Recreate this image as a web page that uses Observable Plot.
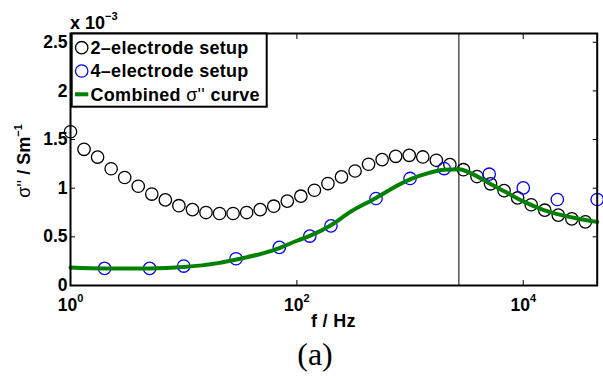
<!DOCTYPE html>
<html><head><meta charset="utf-8">
<script src="https://cdn.jsdelivr.net/npm/d3@7"></script>
<script src="https://cdn.jsdelivr.net/npm/@observablehq/plot@0.6"></script>
<style>body{margin:0;background:#fff} svg{display:block}</style>
</head><body><div id="chart"></div>
<script>
// 2-electrode setup (frequency in Hz, sigma'' in 1e-3 S/m)
const freq2 = [1, 1.317, 1.735, 2.286, 3.011, 3.967, 5.226, 6.885, 9.07, 11.95,
  15.74, 20.74, 27.32, 35.99, 47.41, 62.46, 82.29, 108.4, 142.8, 188.1,
  247.8, 326.4, 430, 566.5, 746.3, 983, 1295, 1706, 2247, 2961,
  3900, 5138, 6769, 8917, 11747, 15475, 20386, 26856, 35380];
const sigma2 = [1.58, 1.40, 1.32, 1.20, 1.11, 1.02, 0.94, 0.88, 0.82, 0.78,
  0.75, 0.74, 0.74, 0.75, 0.78, 0.815, 0.867, 0.918, 0.979, 1.048,
  1.116, 1.177, 1.246, 1.294, 1.328, 1.338, 1.321, 1.287, 1.243, 1.19,
  1.12, 1.045, 0.975, 0.90, 0.83, 0.774, 0.723, 0.685, 0.654];
// 4-electrode setup
const freq4 = [2, 5, 10, 29, 70, 130, 200, 500, 1000, 2000, 5000, 10000, 20000, 45000];
const sigma4 = [0.176, 0.176, 0.2, 0.275, 0.392, 0.508, 0.613, 0.894, 1.10, 1.202, 1.144, 1.003, 0.884, 0.884];
// Combined curve
const freqFit = [1, 2, 5, 10, 20, 30, 50, 70, 100, 130, 200, 300, 500, 700, 1000, 1500, 2000, 2700, 3500, 5000, 7000, 10000, 15000, 20000, 30000, 45000];
const sigmaFit = [0.185, 0.176, 0.176, 0.19, 0.23, 0.27, 0.33, 0.385, 0.46, 0.51, 0.62, 0.76, 0.90, 1.0, 1.09, 1.16, 1.19, 1.195, 1.15, 1.05, 0.96, 0.865, 0.778, 0.733, 0.689, 0.654];
// vertical marker
const markerFreq = [2700];
// axes
const xTicks = [1, 100, 10000];
const xTickLabels = ["10^0", "10^2", "10^4"];
const yTicks = [0, 0.5, 1, 1.5, 2, 2.5];
const yTickLabels = ["0", "0.5", "1", "1.5", "2", "2.5"];
const seriesNames = ["2–electrode setup", "4–electrode setup", "Combined σ'' curve"];
const seriesColors = ["black", "#0000ff", "#008000"];

const W = 603, H = 377, mL = 70, mR = 6.3, mT = 33, mB = 92;
const d2 = freq2.map((f, i) => ({f, s: sigma2[i]}));
const d4 = freq4.map((f, i) => ({f, s: sigma4[i]}));
const dF = freqFit.map((f, i) => ({f, s: sigmaFit[i]}));

const chart = Plot.plot({
  width: W, height: H,
  marginLeft: mL, marginRight: mR, marginTop: mT, marginBottom: mB,
  style: {fontFamily: "'Liberation Sans', Arial, sans-serif", fontSize: "17px", fontWeight: "bold", background: "white", color: "black", overflow: "visible"},
  x: {type: "log", domain: [1, 45000], label: null},
  y: {domain: [0, 2.59], label: null},
  marks: [
    Plot.ruleX(markerFreq, {stroke: "black", strokeWidth: 1}),
    Plot.dot(d2, {x: "f", y: "s", r: 6.2, stroke: seriesColors[0], strokeWidth: 1.3, fill: "none"}),
    Plot.dot(d4, {x: "f", y: "s", r: 6.2, stroke: seriesColors[1], strokeWidth: 1.3, fill: "none"}),
    Plot.line(dF, {x: "f", y: "s", stroke: seriesColors[2], strokeWidth: 4, curve: "monotone-x"}),
    Plot.frame({stroke: "black", strokeWidth: 2}),
    Plot.axisX({ticks: xTicks, tickSize: -5, tickFormat: () => "", label: null}),
    Plot.axisX({anchor: "top", ticks: xTicks, tickSize: -5, tickFormat: () => "", label: null}),
    Plot.axisY({ticks: yTicks, tickSize: -5, tickFormat: () => "", label: null}),
    Plot.axisY({anchor: "right", ticks: yTicks, tickSize: -5, tickFormat: () => "", label: null}),
    Plot.axisX({ticks: xTicks, tickSize: 0, tickPadding: 13, tickFormat: d => xTickLabels[xTicks.indexOf(d)], label: null, fontSize: 17.5, fontWeight: "bold"}),
    Plot.axisY({ticks: yTicks, tickSize: 0, tickPadding: 3, tickFormat: d => yTickLabels[yTicks.indexOf(d)], label: null, fontSize: 17.5, fontWeight: "bold"})
  ]
});
document.getElementById("chart").appendChild(chart);

const svg = d3.select(chart);
// superscripts on x tick labels
svg.selectAll('g[aria-label="x-axis tick label"] text').each(function() {
  const t = d3.select(this);
  const parts = t.text().split("^");
  if (parts.length < 2) return;
  t.text(parts[0]);
  t.append("tspan").attr("dy", "-9").attr("font-size", "11px").text(parts[1]);
});

const font = "'Liberation Sans', Arial, sans-serif";
// exponent label
const ex = svg.append("text").attr("x", mL).attr("y", 29).attr("font-family", font)
  .attr("text-anchor", "start").attr("font-size", 18).attr("font-weight", "bold").text("x 10");
ex.append("tspan").attr("dy", -9).attr("font-size", 11).text("−3");

// y axis title
const yl = svg.append("text").attr("transform", `translate(30,${(mT + H - mB) / 2 + 2}) rotate(-90)`)
  .attr("text-anchor", "middle").attr("font-family", font).attr("font-size", 18).attr("font-weight", "bold");
yl.append("tspan").attr("font-weight", "normal").text("σ''");
yl.append("tspan").text(" / Sm");
yl.append("tspan").attr("dy", -8).attr("font-size", 11).text("−1");

// x axis title
svg.append("text").attr("x", (mL + W - mR) / 2).attr("y", 327).attr("text-anchor", "middle")
  .attr("font-family", font).attr("font-size", 18).attr("font-weight", "bold").attr("letter-spacing", "0.3px").text("f / Hz");

// caption
svg.append("text").attr("x", 315).attr("y", 365).attr("text-anchor", "middle")
  .attr("font-family", "'Liberation Serif', 'Times New Roman', serif").attr("font-weight", "normal")
  .attr("font-size", 32).text("(a)");

// legend
const lg = svg.append("g");
lg.append("rect").attr("x", 71.7).attr("y", 33.5).attr("width", 195).attr("height", 73.2)
  .attr("fill", "white").attr("stroke", "black").attr("stroke-width", 2);
const rowsY = [47.7, 71, 94.3];
lg.append("circle").attr("cx", 81.7).attr("cy", rowsY[0]).attr("r", 6.2).attr("fill", "none").attr("stroke", seriesColors[0]).attr("stroke-width", 1.3);
lg.append("circle").attr("cx", 81.7).attr("cy", rowsY[1]).attr("r", 6.2).attr("fill", "none").attr("stroke", seriesColors[1]).attr("stroke-width", 1.3);
lg.append("line").attr("x1", 75).attr("x2", 88.3).attr("y1", rowsY[2]).attr("y2", rowsY[2]).attr("stroke", seriesColors[2]).attr("stroke-width", 4);
seriesNames.forEach((name, i) => {
  const t = lg.append("text").attr("x", 90.5).attr("y", rowsY[i] + 6.3).attr("font-family", font)
    .attr("text-anchor", "start").attr("font-size", 18).attr("font-weight", "bold").attr("letter-spacing", "0.3px");
  if (name.includes("σ")) {
    const [a, b] = name.split("σ''");
    t.append("tspan").text(a);
    t.append("tspan").attr("font-weight", "normal").text("σ''");
    t.append("tspan").text(b);
  } else t.text(name);
});
</script>
</body></html>
